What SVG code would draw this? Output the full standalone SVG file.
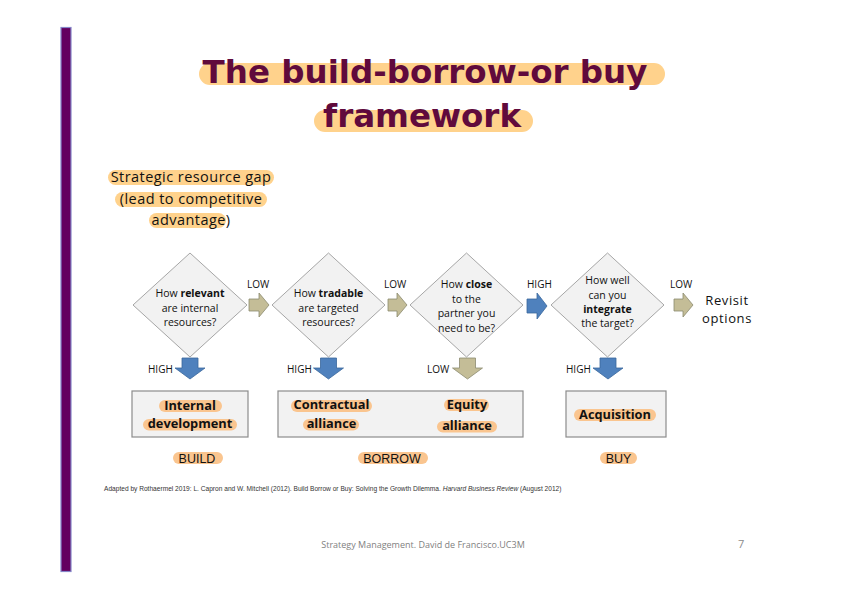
<svg xmlns="http://www.w3.org/2000/svg" width="848" height="599" viewBox="0 0 848 599">
<style>
.title{font-family:"DejaVu Sans",sans-serif;font-weight:bold;font-size:32.5px;fill:#600a3c;text-anchor:middle}
.hl{fill:#ffd28c}
.hb{fill:#fac58f}
.gap{font-family:"Open Sans",sans-serif;font-size:14.5px;letter-spacing:0.45px;fill:#111;text-anchor:middle}
.dia{fill:#f2f2f2;stroke:#a6a6a6;stroke-width:1}
.dt{font-family:"Open Sans",sans-serif;font-size:10.5px;fill:#111;text-anchor:middle}
.b{font-weight:bold}
.box{fill:#f2f2f2;stroke:#8c8c8c;stroke-width:1.2}
.bt{font-family:"Open Sans",sans-serif;font-weight:bold;font-size:12.8px;fill:#111;text-anchor:middle}
.lbl{font-family:"Open Sans",sans-serif;font-size:10px;fill:#111}
.tan{fill:#c4bd97;stroke:#8c8a70;stroke-width:0.8}
.blue{fill:#4f81bd;stroke:#3a679c;stroke-width:0.8}
.cat{font-family:"Liberation Sans",sans-serif;font-size:12.5px;fill:#111;text-anchor:middle}
.rev{font-family:"Open Sans",sans-serif;font-size:13px;letter-spacing:0.6px;fill:#111;text-anchor:middle}
.fn{font-family:"Liberation Sans",sans-serif;font-size:6.6px;fill:#333}
</style>
<rect width="848" height="599" fill="#ffffff"/>
<rect x="61" y="27.5" width="10" height="544" fill="#63005f" stroke="#8585c8" stroke-width="1.2"/>

<g id="title">
<rect class="hl" x="199" y="63" width="466" height="22" rx="11"/>
<rect class="hl" x="314" y="110" width="219" height="22" rx="11"/>
<text class="title" x="425" y="83">The build-borrow-or buy</text>
<text class="title" x="422" y="127">framework</text>
</g>

<g id="gap">
<rect class="hl" x="108" y="170" width="166" height="15" rx="7.5"/>
<rect class="hl" x="115" y="192" width="152" height="15" rx="7.5"/>
<rect class="hl" x="149" y="213" width="77" height="15" rx="7.5"/>
<text class="gap" x="191" y="182">Strategic resource gap</text>
<text class="gap" x="191" y="204">(lead to competitive</text>
<text class="gap" x="191" y="225">advantage)</text>
</g>

<g id="q1">
<polygon class="dia" points="190,253 247,305 190,357 133,305"/>
<text class="dt" x="190" y="297">How <tspan class="b">relevant</tspan></text>
<text class="dt" x="190" y="312">are internal</text>
<text class="dt" x="190" y="326">resources?</text>
</g>
<g id="q2">
<polygon class="dia" points="328.5,253 385,305 328.5,357 272,305"/>
<text class="dt" x="328.5" y="297">How <tspan class="b">tradable</tspan></text>
<text class="dt" x="328.5" y="312">are targeted</text>
<text class="dt" x="328.5" y="326">resources?</text>
</g>
<g id="q3">
<polygon class="dia" points="466.5,253 523,305 466.5,357 410,305"/>
<text class="dt" x="466.5" y="288">How <tspan class="b">close</tspan></text>
<text class="dt" x="466.5" y="303">to the</text>
<text class="dt" x="466.5" y="317">partner you</text>
<text class="dt" x="466.5" y="332">need to be?</text>
</g>
<g id="q4">
<polygon class="dia" points="607.5,253 664,305 607.5,357 551,305"/>
<text class="dt" x="607.5" y="284">How well</text>
<text class="dt" x="607.5" y="299">can you</text>
<text class="dt" x="607.5" y="313"><tspan class="b">integrate</tspan></text>
<text class="dt" x="607.5" y="327">the target?</text>
</g>

<g id="revisit">
<text class="rev" x="727" y="305">Revisit</text>
<text class="rev" x="727" y="323">options</text>
</g>

<g id="build">
<rect class="box" x="132" y="391" width="116" height="46"/>
<rect class="hb" x="159" y="400" width="63" height="12" rx="6"/>
<rect class="hb" x="143" y="419" width="94" height="11.5" rx="5.75"/>
<text class="bt" x="190" y="410">Internal</text>
<text class="bt" x="190" y="428">development</text>
</g>
<g id="borrow">
<rect class="box" x="278" y="391" width="245" height="46"/>
<rect class="hb" x="291" y="400" width="81" height="12" rx="6"/>
<rect class="hb" x="303" y="419" width="56" height="11.5" rx="5.75"/>
<rect class="hb" x="444" y="399" width="45" height="12" rx="6"/>
<rect class="hb" x="437" y="421" width="60" height="11.5" rx="5.75"/>
<text class="bt" x="331.5" y="409">Contractual</text>
<text class="bt" x="331.5" y="428">alliance</text>
<text class="bt" x="467" y="409">Equity</text>
<text class="bt" x="467" y="430">alliance</text>
</g>
<g id="buy">
<rect class="box" x="566" y="391" width="100" height="46"/>
<rect class="hb" x="574" y="409" width="82" height="12" rx="6"/>
<text class="bt" x="615" y="419">Acquisition</text>
</g>

<g id="categories">
<rect class="hb" x="173" y="452" width="50" height="12" rx="6"/>
<rect class="hb" x="358" y="452" width="70" height="12" rx="6"/>
<rect class="hb" x="600" y="452" width="37" height="12" rx="6"/>
<text class="cat" x="197" y="463">BUILD</text>
<text class="cat" x="392" y="463">BORROW</text>
<text class="cat" x="618.5" y="463">BUY</text>
</g>

<g id="connectors">
<path class="tan" d="M249,299 H259 V293 L269,305 L259,317 V311 H249 Z"/>
<path class="tan" d="M388,299 H397 V293 L407,305 L397,317 V311 H388 Z"/>
<path class="blue" d="M527,299 H537 V293 L547,306 L537,319 V313 H527 Z"/>
<path class="tan" d="M674,299 H683 V293 L693,305 L683,317 V311 H674 Z"/>
<path class="blue" d="M182,358 H198 V368 H205 L190,379 L175,368 H182 Z"/>
<path class="blue" d="M320.5,358 H336.5 V368 H343.5 L328.5,379 L313.5,368 H320.5 Z"/>
<path class="tan" d="M459.5,358 H475.5 V368 H482.5 L467.5,379 L452.5,368 H459.5 Z"/>
<path class="blue" d="M600,358 H616 V368 H623 L608,379 L593,368 H600 Z"/>
<text class="lbl" x="247" y="288">LOW</text>
<text class="lbl" x="384" y="288">LOW</text>
<text class="lbl" x="527" y="288">HIGH</text>
<text class="lbl" x="670" y="288">LOW</text>
<text class="lbl" x="148" y="373">HIGH</text>
<text class="lbl" x="287" y="373">HIGH</text>
<text class="lbl" x="427" y="373">LOW</text>
<text class="lbl" x="566" y="373">HIGH</text>
</g>

<g id="footnote">
<text class="fn" x="104" y="491">Adapted by Rothaermel 2019: L. Capron and W. Mitchell (2012). Build Borrow or Buy: Solving the Growth Dilemma. <tspan font-style="italic">Harvard Business Review</tspan> (August 2012)</text>
</g>
<g id="footer">
<text x="423" y="548" font-family="Open Sans, sans-serif" font-size="9" fill="#7f7f7f" text-anchor="middle">Strategy Management. David de Francisco.UC3M</text>
<text x="738" y="548" font-family="Open Sans, sans-serif" font-size="11" fill="#8c8c8c">7</text>
</g>
</svg>
